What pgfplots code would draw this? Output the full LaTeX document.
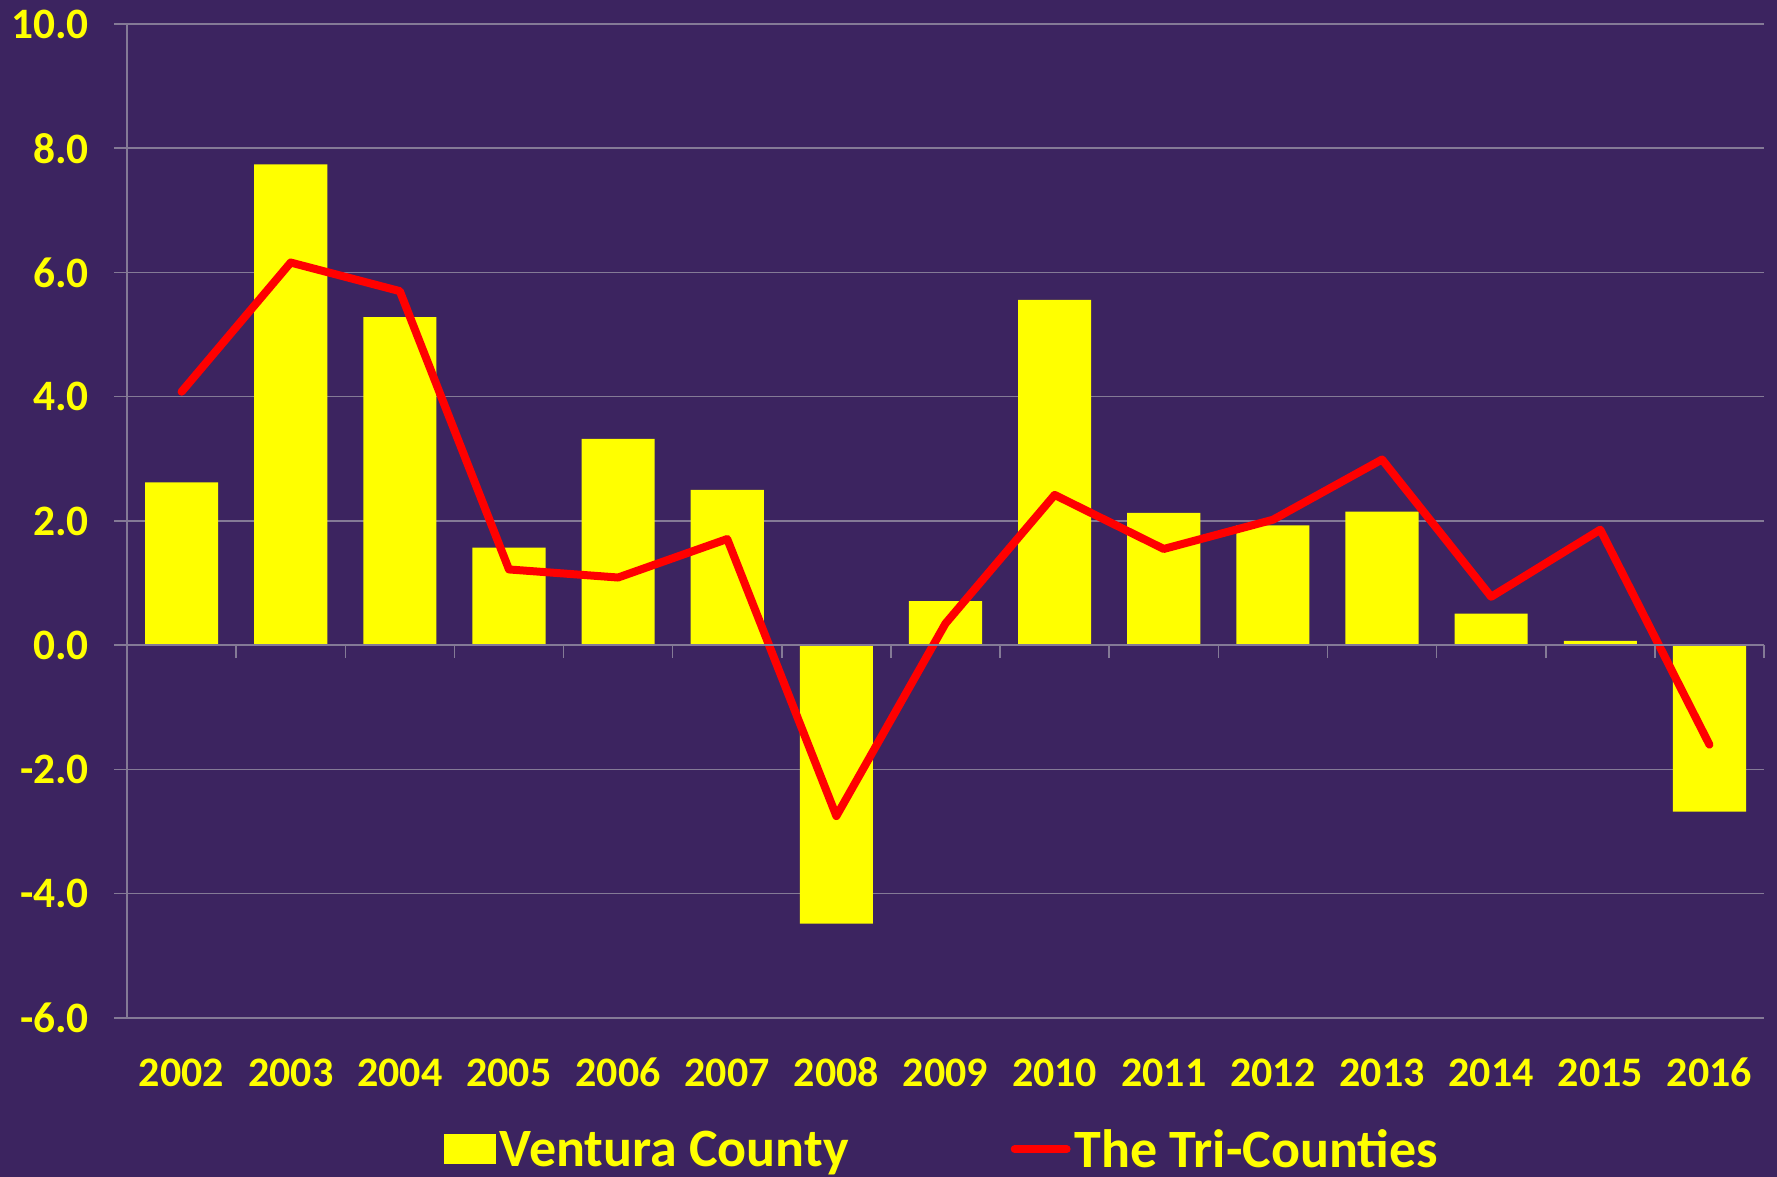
\documentclass[border=0pt]{standalone}
\usepackage{fontspec}
\setmainfont{Carlito}
\usepackage{pgfplots}
\pgfplotsset{compat=1.18}
\definecolor{bg}{RGB}{60,36,96}
\definecolor{gridc}{RGB}{132,122,150}
\definecolor{ylw}{RGB}{255,255,0}
\definecolor{rd}{RGB}{255,0,0}
\begin{document}
\begin{tikzpicture}
\fill[bg] (0pt,0pt) rectangle (888.5pt,588.5pt);
\useasboundingbox (0pt,0pt) rectangle (888.5pt,588.5pt);
\begin{axis}[
  at={(63.5pt,79.5pt)}, anchor=south west,
  scale only axis, width=818.5pt, height=497pt,
  xmin=-0.5, xmax=14.5, ymin=-6, ymax=10,
  axis y line*=left, axis x line*=bottom,
  x axis line style={draw=none},
  y axis line style={draw=gridc, line width=0.75pt},
  xtick={0,...,14},
  xticklabels={2002,2003,2004,2005,2006,2007,2008,2009,2010,2011,2012,2013,2014,2015,2016},
  x tick style={draw=none},
  ytick={-6,-4,...,10},
  yticklabels={-6.0,-4.0,-2.0,0.0,2.0,4.0,6.0,8.0,10.0},
  y tick style={draw=gridc, line width=0.75pt},
  tick align=outside, major tick length=6.5pt,
  ymajorgrids, grid style={draw=gridc, line width=0.75pt},
  xticklabel style={font=\fontsize{21}{25}\selectfont\bfseries, text=ylw,
    text height=13.5pt, text depth=0pt, yshift=-10.5pt},
  yticklabel style={font=\fontsize{21.7}{25}\selectfont\bfseries, text=ylw, xshift=-9pt},
  legend columns=2,
  legend style={at={(0.4985,-0.133)}, anchor=center, draw=none, fill=none,
    font=\fontsize{27}{30}\selectfont\bfseries, text=ylw,
    /tikz/every even column/.append style={column sep=79pt},
    inner sep=0pt},
  legend cell align=left,
]
\addplot[ybar, bar width=0.67, fill=ylw, draw=none,
  legend image code/.code={\fill[ylw] (0pt,-7pt) rectangle (26pt,8pt);}]
coordinates {(0,2.62) (1,7.74) (2,5.28) (3,1.57) (4,3.32) (5,2.50) (6,-4.48) (7,0.71) (8,5.56) (9,2.13) (10,1.93) (11,2.15) (12,0.51) (13,0.07) (14,-2.68)};
\addlegendentry{Ventura County}
\addplot[rd, line width=4pt, line join=round, line cap=round, mark=none,
  legend image code/.code={\draw[rd, line width=4pt, line cap=round] (1pt,0.5pt) -- (27pt,0.5pt);}]
coordinates {(0,4.08) (1,6.16) (2,5.70) (3,1.22) (4,1.09) (5,1.71) (6,-2.75) (7,0.35) (8,2.42) (9,1.55) (10,2.02) (11,2.99) (12,0.78) (13,1.86) (14,-1.60)};
\addlegendentry{The Tri-Counties}
\end{axis}
\begin{axis}[
  at={(63.5pt,79.5pt)}, anchor=south west,
  scale only axis, width=818.5pt, height=497pt,
  xmin=-0.5, xmax=14.5, ymin=-6, ymax=10,
  axis x line=middle, axis y line=none,
  x axis line style={-, draw=gridc, line width=0.75pt},
  xtick={-0.5,0.5,...,14.5}, xticklabels={},
  x tick style={draw=gridc, line width=0.75pt},
  xtick align=outside, major tick length=6.5pt,
]
\end{axis}
\end{tikzpicture}
\end{document}
